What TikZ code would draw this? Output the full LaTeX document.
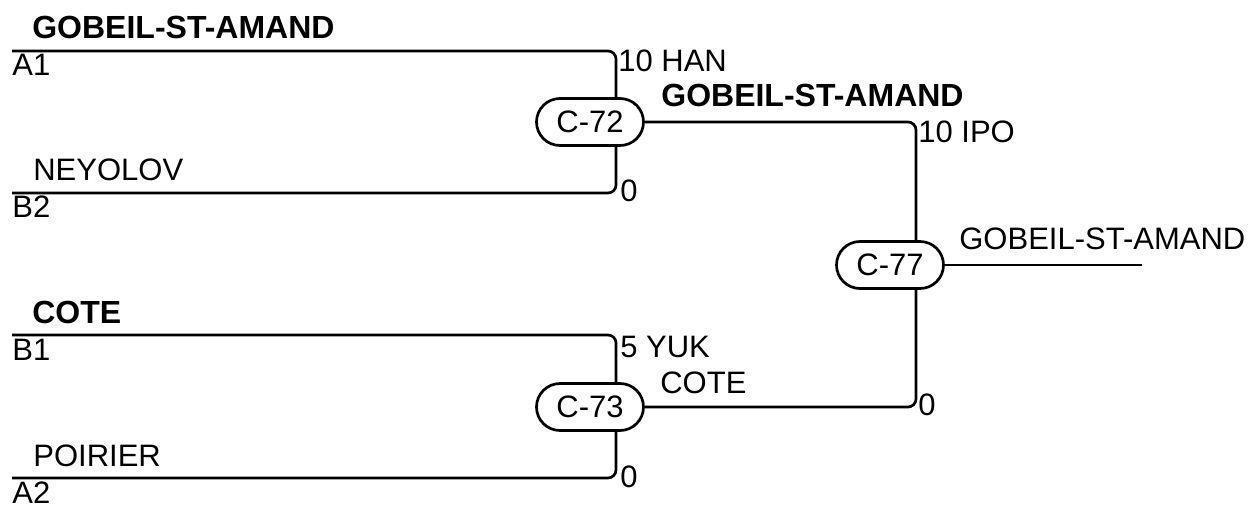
\documentclass[tikz,border=0pt]{standalone}
\usepackage{fontspec}
\setmainfont{Liberation Sans}
\begin{document}
\begin{tikzpicture}[x=1pt, y=-1pt, line width=2.7pt, rounded corners=8pt,
	every node/.style={font=\fontsize{31}{37}\selectfont, inner sep=0pt, anchor=base west},
	bold/.style={font=\fontsize{32}{38}\selectfont\bfseries},
	match/.style={draw, anchor=center, minimum width=107pt, minimum height=47pt, rounded corners=23.5pt}]
	\useasboundingbox (0,0) rectangle (1254,508);
	% Entry lines and winner line end
	\path
	(12,51) coordinate (A1)
	(12,193) coordinate (B2)
	(12,335) coordinate (B1)
	(12,478) coordinate (A2)
	(1142,265) coordinate (W)
	;
	% Matches
	\node[match] (c72) at (590,122) {C-72};
	\node[match] (c73) at (590,407) {C-73};
	\node[match] (c77) at (890,265) {C-77};
	% Bracket lines
	\draw (A1) -| ([xshift=26pt]c72.north);
	\draw (B2) -| ([xshift=26pt]c72.south);
	\draw (B1) -| ([xshift=26pt]c73.north);
	\draw (A2) -| ([xshift=26pt]c73.south);
	\draw (c72.east) -| ([xshift=26pt]c77.north);
	\draw (c73.east) -| ([xshift=26pt]c77.south);
	\draw (c77.east) -- (W);
	% Team names and seeds
	\node[bold] (t1) at (31,39) {GOBEIL-ST-AMAND};
	\node (s1) at (11,76) {A1};
	\node (t2) at (32,181) {NEYOLOV};
	\node (s2) at (11,218) {B2};
	\node[bold] (t3) at (31,323) {COTE};
	\node (s3) at (11,360) {B1};
	\node (t4) at (32,466) {POIRIER};
	\node (s4) at (11,503) {A2};
	% Scores
	\node (r1) at (617,72) {10 HAN};
	\node (r2) at (619,202) {0};
	\node (r3) at (619,357) {5 YUK};
	\node (r4) at (619,487) {0};
	\node (r5) at (917,143) {10 IPO};
	\node (r6) at (917,415) {0};
	% Winners
	\node[bold] (w72) at (660,107) {GOBEIL-ST-AMAND};
	\node (w73) at (659,393) {COTE};
	\node (w77) at (958,249) {GOBEIL-ST-AMAND};
\end{tikzpicture}
\end{document}
